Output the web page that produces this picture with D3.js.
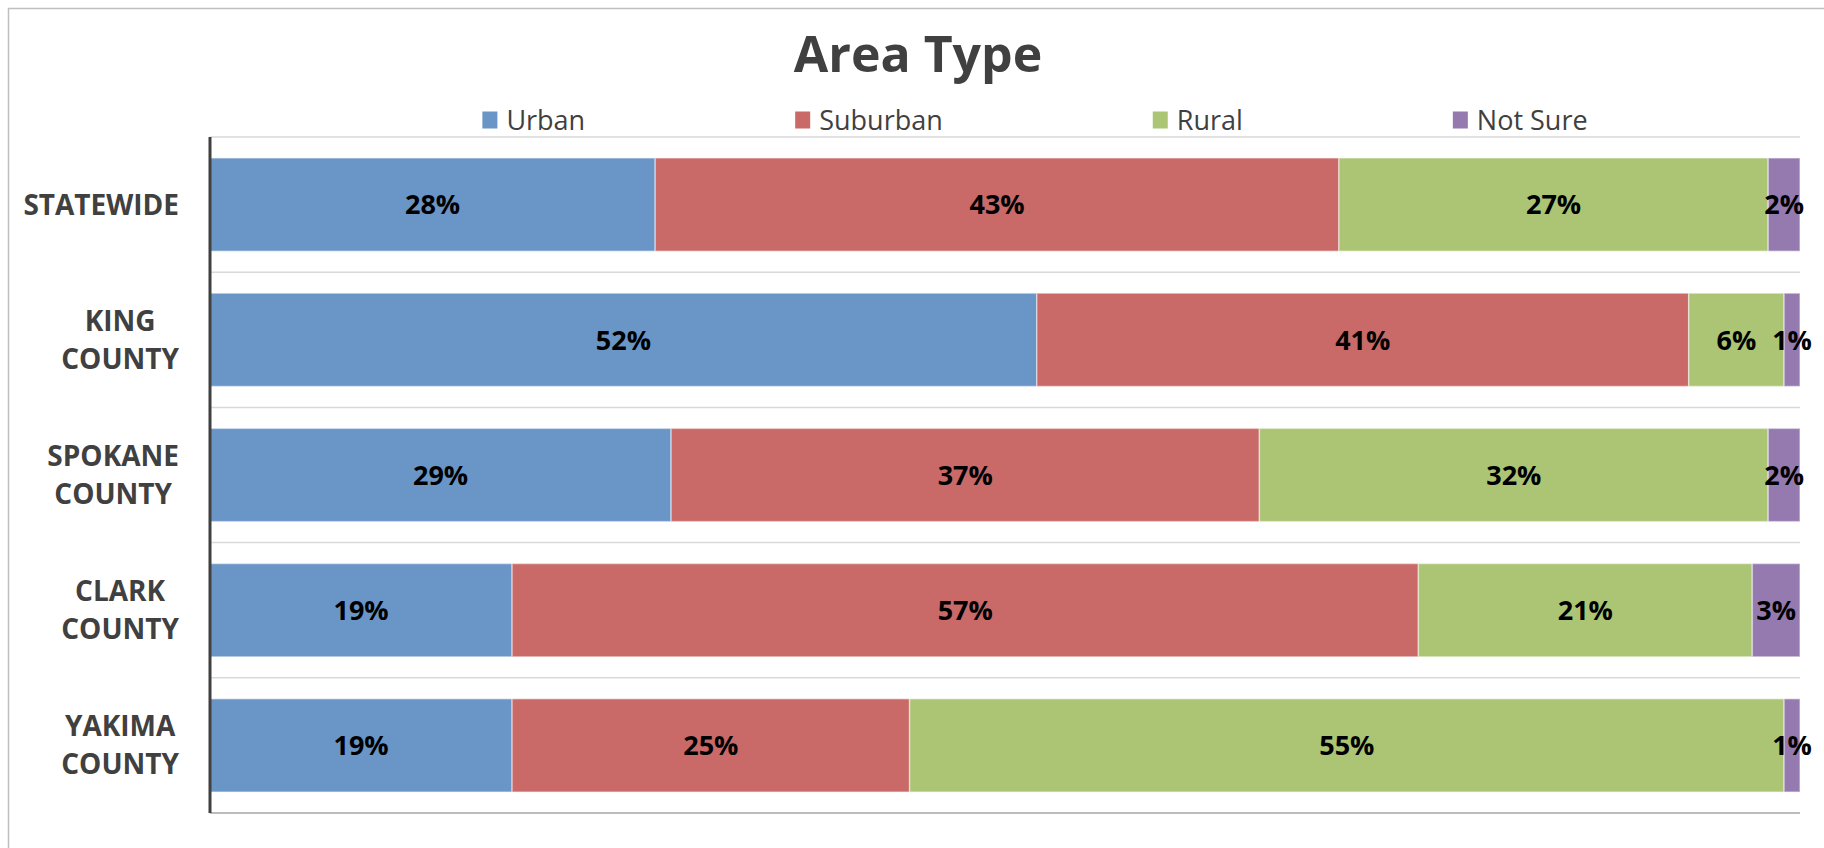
<!DOCTYPE html>
<html>
<head>
<meta charset="utf-8">
<script src="https://cdn.jsdelivr.net/npm/d3@7"></script>
<style>
    body { margin: 0; background: #fff; }
    svg { display: block; font-family: "Open Sans", sans-serif; }
</style>
</head>
<body>
<svg id="chart"></svg>
<script>
// data
const categories = ["STATEWIDE", "KING COUNTY", "SPOKANE COUNTY", "CLARK COUNTY", "YAKIMA COUNTY"];
const seriesNames = ["Urban", "Suburban", "Rural", "Not Sure"];
const urban = [28, 52, 29, 19, 19];
const suburban = [43, 41, 37, 57, 25];
const rural = [27, 6, 32, 21, 55];
const notSure = [2, 1, 2, 3, 1];
const seriesColors = ["#6A95C7", "#C96A68", "#ABC574", "#957AB0"];

const width = 1824;
const height = 848;

const svg = d3.select("#chart")
    .attr("width", width)
    .attr("height", height);

// chart area frame (only top and left edges show)
svg.append("line").attr("x1", 8).attr("x2", width).attr("y1", 8.5).attr("y2", 8.5)
    .attr("stroke", "#BFBFBF").attr("stroke-width", 1.5);
svg.append("line").attr("x1", 8.5).attr("x2", 8.5).attr("y1", 8).attr("y2", height)
    .attr("stroke", "#BFBFBF").attr("stroke-width", 1.5);

// title
svg.append("text")
    .attr("x", 918)
    .attr("y", 72)
    .attr("text-anchor", "middle")
    .attr("font-size", 50)
    .attr("font-weight", "bold")
    .attr("fill", "#404040")
    .text("Area Type");

const rows = categories.map((c, i) => ({
    category: c,
    "Urban": urban[i],
    "Suburban": suburban[i],
    "Rural": rural[i],
    "Not Sure": notSure[i]
}));

const stacked = d3.stack().keys(seriesNames)(rows);

const x = d3.scaleLinear().domain([0, 100]).range([210, 1800]);
const y = d3.scaleBand()
    .domain(categories)
    .range([137, 813])
    .paddingInner(0.31)
    .paddingOuter(0.155);

// horizontal gridlines at category boundaries
const bounds = categories.map(c => y(c) - y.step() * 0.155).concat([y.range()[1]]);
svg.append("g")
    .selectAll("line")
    .data(bounds)
    .enter()
    .append("line")
    .attr("x1", x(0))
    .attr("x2", x(100))
    .attr("y1", d => d)
    .attr("y2", d => d)
    .attr("stroke", (d, i) => i === bounds.length - 1 ? "#A6A6A6" : "#D9D9D9")
    .attr("stroke-width", 1.5);

// bars
const layers = svg.append("g")
    .selectAll("g")
    .data(stacked)
    .enter()
    .append("g")
    .attr("fill", (d, i) => seriesColors[i]);

layers.selectAll("rect")
    .data(d => d)
    .enter()
    .append("rect")
    .attr("x", d => x(d[0]))
    .attr("y", d => y(d.data.category))
    .attr("width", d => x(d[1]) - x(d[0]))
    .attr("height", y.bandwidth())
    .attr("stroke", "#fff")
    .attr("stroke-opacity", 0.45)
    .attr("stroke-width", 1.5);

// value labels
layers.selectAll("text")
    .data(d => d)
    .enter()
    .append("text")
    .attr("x", d => (x(d[0]) + x(d[1])) / 2)
    .attr("y", d => y(d.data.category) + y.bandwidth() / 2)
    .attr("dy", "0.36em")
    .attr("text-anchor", "middle")
    .attr("font-size", 27)
    .attr("font-weight", "bold")
    .attr("fill", "#000")
    .text(d => (d[1] - d[0]) + "%");

// vertical axis line
svg.append("line")
    .attr("x1", x(0)).attr("x2", x(0))
    .attr("y1", y.range()[0]).attr("y2", y.range()[1])
    .attr("stroke", "#404040")
    .attr("stroke-width", 3);

// category labels: lines centred on each other, block right-aligned
const lineGap = 38;
categories.forEach(c => {
    const parts = c.split(" ");
    const g = svg.append("g");
    const texts = g.selectAll("text")
        .data(parts)
        .enter()
        .append("text")
        .attr("text-anchor", "middle")
        .attr("font-size", 28)
        .attr("font-weight", "bold")
        .attr("fill", "#404040")
        .attr("dy", "0.36em")
        .text(d => d);
    let maxW = 0;
    texts.each(function () { maxW = Math.max(maxW, this.getComputedTextLength()); });
    const cy = y(c) + y.bandwidth() / 2;
    texts.attr("x", 179 - maxW / 2)
        .attr("y", (d, i) => cy + (i - (parts.length - 1) / 2) * lineGap);
});

// legend
const legend = svg.append("g");
const items = legend.selectAll("g")
    .data(seriesNames)
    .enter()
    .append("g");
items.append("rect")
    .attr("width", 15)
    .attr("height", 17)
    .attr("y", -8.5)
    .attr("fill", (d, i) => seriesColors[i]);
items.append("text")
    .attr("x", 24)
    .attr("dy", "0.36em")
    .attr("font-size", 27)
    .attr("fill", "#404040")
    .text(d => d);

let cursor = 0;
items.each(function () {
    const w = 24 + d3.select(this).select("text").node().getComputedTextLength();
    d3.select(this).attr("transform", `translate(${cursor}, 0)`);
    cursor += w + 210;
});
const legendWidth = cursor - 210;
legend.attr("transform", `translate(${1035 - legendWidth / 2}, 120)`);
</script>
</body>
</html>
